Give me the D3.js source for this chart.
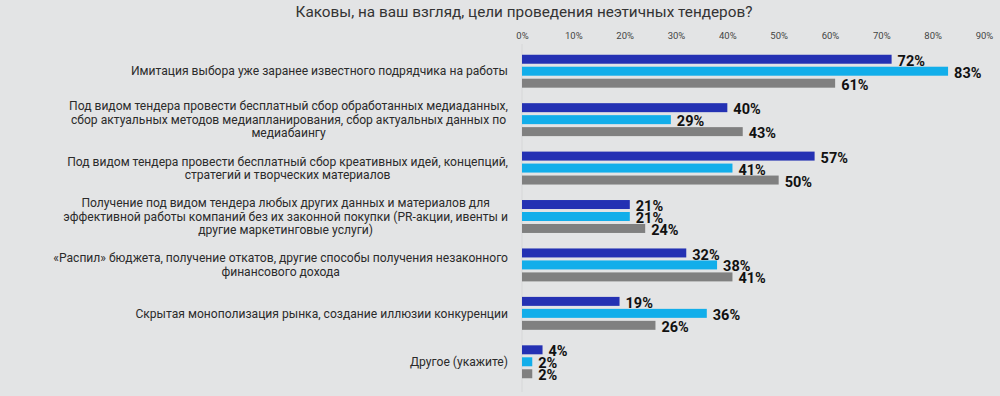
<!DOCTYPE html>
<html>
<head>
<meta charset="utf-8">
<script src="https://cdn.jsdelivr.net/npm/d3@7"></script>
<style>
  body { margin: 0; background: #e3e4e5; }
  svg { display: block; }
</style>
</head>
<body>
<svg></svg>
<script>
// survey answers, one entry per row (line breaks as in the original)
let categories = [
  ["Имитация выбора уже заранее известного подрядчика на работы"],
  ["Под видом тендера провести бесплатный сбор обработанных медиаданных,",
   "сбор актуальных методов медиапланирования, сбор актуальных данных по",
   "медиабаингу"],
  ["Под видом тендера провести бесплатный сбор креативных идей, концепций,",
   "стратегий и творческих материалов"],
  ["Получение под видом тендера любых других данных и материалов для",
   "эффективной работы компаний без их законной покупки (PR-акции, ивенты и",
   "другие маркетинговые услуги)"],
  ["«Распил» бюджета, получение откатов, другие способы получения незаконного",
   "финансового дохода"],
  ["Скрытая монополизация рынка, создание иллюзии конкуренции"],
  ["Другое (укажите)"]
];

// three series of percentages
let seriesA = [72, 40, 57, 21, 32, 19, 4];
let seriesB = [83, 29, 41, 21, 38, 36, 2];
let seriesC = [61, 43, 50, 24, 41, 26, 2];

let tickValues = [0, 10, 20, 30, 40, 50, 60, 70, 80, 90];

let colors = ["#2431b3", "#12aeea", "#808080"];

let svgWidth = 1000;
let svgHeight = 396;

let svg = d3.select("svg")
    .attr("width", svgWidth)
    .attr("height", svgHeight);

// title
svg.append("text")
    .attr("x", 524)
    .attr("y", 17)
    .attr("text-anchor", "middle")
    .style("font-family", "Roboto, sans-serif")
    .style("font-size", "15.3px")
    .style("fill", "#333")
    .text("Каковы, на ваш взгляд, цели проведения неэтичных тендеров?");

let x = d3.scaleLinear()
    .domain([0, 90])
    .range([522, 984]);

let y = d3.scaleBand()
    .domain(d3.range(categories.length))
    .range([47, 386])
    .paddingInner(0.32)
    .paddingOuter(0.16);

let ySub = d3.scaleBand()
    .domain([0, 1, 2])
    .range([0, y.bandwidth()])
    .paddingInner(0.25);

// top axis, labels only
let xAxis = d3.axisTop(x)
    .tickValues(tickValues)
    .tickFormat(d => d + "%")
    .tickSize(0)
    .tickPadding(0);

let axisG = svg.append("g")
    .attr("transform", "translate(0,39)")
    .call(xAxis);
axisG.select(".domain").remove();
axisG.selectAll("text")
    .style("font-family", "Roboto, sans-serif")
    .style("font-size", "9.5px")
    .style("fill", "#444");

// faint baseline at 0%
svg.append("line")
    .attr("x1", x(0)).attr("x2", x(0))
    .attr("y1", 44).attr("y2", 392)
    .attr("stroke", "#d6d7d8")
    .attr("stroke-width", 1);

// category labels: block is right aligned, lines are centered inside it
let labelRight = 508;
let lineHeight = 13.5;

categories.forEach(function(lines, i) {
    let cy = y(i) + y.bandwidth() / 2;
    let g = svg.append("g");
    let texts = lines.map(function(line, j) {
        return g.append("text")
            .attr("y", cy + (j - (lines.length - 1) / 2) * lineHeight)
            .attr("dy", "0.35em")
            .attr("text-anchor", "middle")
            .style("font-family", "Roboto, sans-serif")
            .style("font-size", "12.1px")
            .style("fill", "#2b2b2b")
            .text(line);
    });
    let maxW = d3.max(texts, t => t.node().getComputedTextLength());
    texts.forEach(t => t.attr("x", labelRight - maxW / 2));
});

// bars
let rows = categories.map(function(c, i) {
    return [seriesA[i], seriesB[i], seriesC[i]];
});

let groups = svg.selectAll("g.row")
    .data(rows)
    .enter()
    .append("g")
    .attr("class", "row")
    .attr("transform", (d, i) => "translate(0," + y(i) + ")");

groups.selectAll("rect")
    .data(d => d)
    .enter()
    .append("rect")
    .attr("x", x(0))
    .attr("y", (d, j) => ySub(j))
    .attr("width", d => x(d) - x(0))
    .attr("height", ySub.bandwidth())
    .attr("fill", (d, j) => colors[j]);

groups.selectAll("text")
    .data(d => d)
    .enter()
    .append("text")
    .attr("x", d => x(d) + 6)
    .attr("y", (d, j) => ySub(j) + ySub.bandwidth() / 2 + 1.5)
    .attr("dy", "0.35em")
    .style("font-family", "Roboto, sans-serif")
    .style("font-weight", "bold")
    .style("font-size", "14.5px")
    .style("fill", "#111")
    .text(d => d + "%");
</script>
</body>
</html>
